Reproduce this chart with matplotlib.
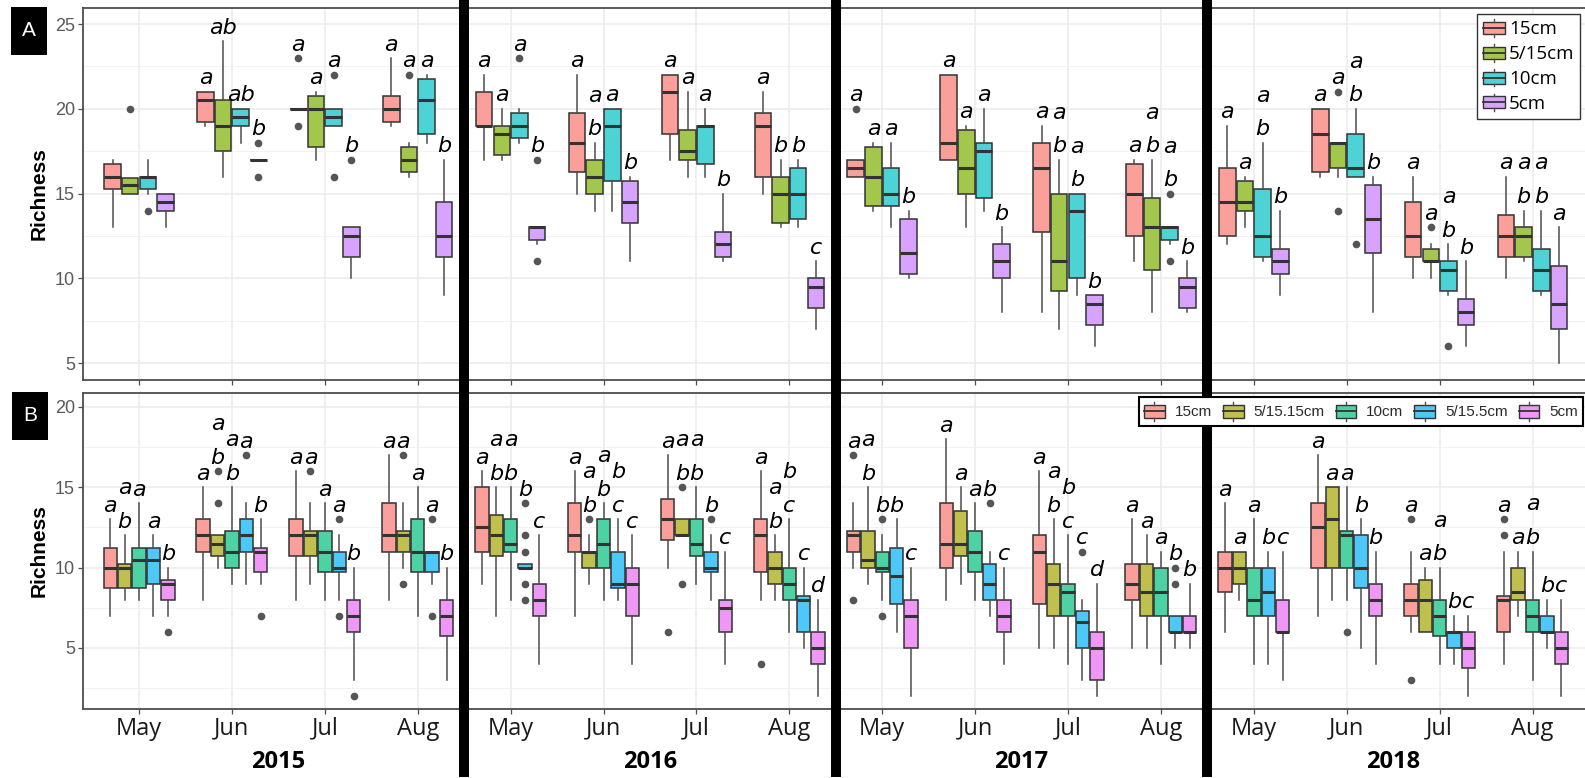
import matplotlib
matplotlib.use('Agg')
import matplotlib.pyplot as plt
from matplotlib.patches import Rectangle, Patch
from matplotlib.lines import Line2D
from matplotlib.legend_handler import HandlerBase
from matplotlib.ticker import MultipleLocator
from matplotlib.colors import to_rgb

W, H = 1585, 778

years = ['2015', '2016', '2017', '2018']
months = ['May', 'Jun', 'Jul', 'Aug']

# ---- panel A : 4 depths, rows = months 2015 May ... 2018 Aug
a_groups = ['15cm', '5/15cm', '10cm', '5cm']
a_colors = ['#F8766D', '#7CAE00', '#00BFC4', '#C77CFF']

a_lo = [[13, 15, 15, 13], [19, 16, 18, 17], [20, 17, 19, 10], [19, 16, 18, 9],
        [17, 17, 18, 12], [15, 14, 14, 11], [17, 16, 16, 11], [15, 13, 13, 7],
        [16, 14, 13, 10], [17, 13, 14, 8], [8, 7, 9, 6], [11, 8, 12, 8],
        [12, 13, 11, 9], [16, 16, 16, 8], [10, 10, 9, 6], [10, 11, 9, 5]]
a_q1 = [[15.25, 15, 15.25, 14], [19.25, 17.5, 19, 17], [20, 17.75, 19, 11.25], [19.25, 16.25, 18.5, 11.25],
        [19, 17.25, 18.25, 12.25], [16.25, 15, 15.75, 13.25], [18.5, 17, 16.75, 11.25], [16, 13.25, 13.5, 8.25],
        [16, 14.25, 14.25, 10.25], [17, 15, 14.75, 10], [12.75, 9.25, 10, 7.25], [12.5, 10.5, 12.25, 8.25],
        [12.5, 14, 11.25, 10.25], [16.25, 16.5, 16, 11.5], [11.25, 11, 9.25, 7.25], [11.25, 11.25, 9.25, 7]]
a_med = [[16, 15.5, 16, 14.5], [20.5, 19, 19.5, 17], [20, 20, 19.5, 12.5], [20, 17, 20.5, 12.5],
         [19, 18.5, 19, 13], [18, 16, 19, 14.5], [21, 17.5, 19, 12], [19, 15, 15, 9.5],
         [16.5, 16, 15, 11.5], [18, 16.5, 17.5, 11], [16.5, 11, 14, 8.5], [15, 13, 13, 9.5],
         [14.5, 14.5, 12.5, 11], [18.5, 18, 16.5, 13.5], [12.5, 11, 10.5, 8], [12.5, 12.5, 10.5, 8.5]]
a_q3 = [[16.75, 15.9, 16, 15], [21, 20.5, 20, 17], [20, 20.75, 20, 13], [20.75, 17.75, 21.75, 14.5],
        [21, 19, 19.75, 13], [19.75, 17, 20, 15.75], [22, 18.75, 19, 12.75], [19.75, 16, 16.5, 10],
        [17, 17.75, 16.5, 13.5], [22, 18.75, 18, 12], [18, 15, 15, 9], [16.75, 14.75, 13, 10],
        [16.5, 15.75, 15.25, 11.75], [20, 18, 18.5, 15.5], [14.5, 11.75, 11, 8.75], [13.75, 13, 11.75, 10.75]]
a_hi = [[17, 15.9, 17, 15], [21, 24, 20, 17], [20, 21, 20, 13], [23, 18, 22, 17],
        [22, 20, 20, 13], [22, 18, 20, 16], [22, 21, 20, 15], [21, 17, 17, 11],
        [17, 18, 18, 14], [22, 19, 20, 13], [19, 17, 15, 9], [17, 17, 13, 11],
        [19, 16, 18, 14], [20, 18, 20, 16], [16, 12, 12, 11], [16, 14, 14, 13]]
a_out = [[[], [20], [14], []], [[], [], [], [18, 16]], [[23, 19], [], [22, 16], [17]], [[], [22], [], []],
         [[], [], [23], [17, 11]], [[], [], [], []], [[], [], [], []], [[], [], [], []],
         [[20], [], [], []], [[], [], [], []], [[], [], [], []], [[], [], [15, 11], []],
         [[], [], [], []], [[], [21, 14], [12], []], [[], [13], [6], []], [[], [], [], []]]
a_let = [['', '', '', ''], ['a', 'ab', 'ab', 'b'], ['a', 'a', 'a', 'b'], ['a', 'a', 'a', 'b'],
         ['a', 'a', 'a', 'b'], ['a', 'a\nb', 'a', 'b'], ['a', 'a', 'a', 'b'], ['a', 'b', 'b', 'c'],
         ['a', 'a', 'a', 'b'], ['a', 'a', 'a', 'b'], ['a', 'a\nb', 'a\nb', 'b'], ['a', 'a\nb', 'a\nb', 'b'],
         ['a', 'a', 'a\nb', 'b'], ['a', 'a', 'a\nb', 'b'], ['a', 'a', 'a\nb', 'b'], ['a', 'a\nb', 'a\nb', 'a']]

# ---- panel B : 5 depths
b_groups = ['15cm', '5/15.15cm', '10cm', '5/15.5cm', '5cm']
b_colors = ['#F8766D', '#A3A500', '#00BF7D', '#00B0F6', '#E76BF3']

b_lo = [[7, 8, 8, 7, 7], [8, 10, 9, 9, 9], [8, 9, 8, 8, 3], [8, 10, 7, 9, 3],
        [9, 7, 8, 10, 4], [7, 9, 8, 8, 4], [10, 12, 9, 8, 4], [8, 8, 6, 5, 2],
        [10, 9, 8, 6, 2], [8, 9, 8, 7, 4], [5, 5, 4, 3, 2], [5, 5, 4, 5, 5],
        [6, 8, 4, 4, 3], [7, 8, 8, 5, 4], [6, 6, 4, 4, 2], [4, 7, 3, 5, 2]]
b_q1 = [[8.75, 8.75, 8.75, 9, 8], [11, 10.75, 10, 11, 9.75], [10.75, 10.75, 9.75, 9.75, 6], [11, 11, 9.75, 9.75, 5.75],
        [11, 10.75, 11, 10, 7], [11, 10, 10, 8.75, 7], [11.75, 12, 10.75, 9.75, 6], [9.75, 9, 8, 6, 4],
        [11, 10, 9.75, 7.75, 5], [10, 10.75, 9.75, 8, 6], [7.75, 7, 7, 5, 3], [8, 7, 7, 6, 6],
        [8.5, 9, 7, 7, 6], [10, 10, 10, 8.75, 7], [7, 6, 5.75, 5, 3.75], [6, 8, 6, 6, 4]]
b_med = [[10, 10, 10.5, 10.5, 9], [12, 11.5, 11, 12, 11], [12, 12, 11, 10, 7], [12, 12, 11, 11, 7],
         [12.5, 12, 11.5, 10, 8], [12, 11, 11.5, 9, 9], [13, 12, 11.5, 10, 7.5], [12, 10, 9, 8, 5],
         [12, 10.5, 10, 9.5, 7], [11.5, 11.5, 11, 9, 7], [11, 9, 8.5, 6.6, 5], [9, 8.5, 8.5, 6, 6],
         [10, 10, 8, 8.5, 6], [12.5, 13, 12, 10, 8], [8, 8, 7, 6, 5], [8, 8.5, 7, 6, 5]]
b_q3 = [[11.25, 10.25, 11.25, 11.25, 9.25], [13, 12, 12.25, 13, 11.25], [13, 12.25, 12.25, 11, 8], [14, 12.25, 13, 11, 8],
        [15, 13.25, 13, 10.25, 9], [14, 11, 13, 11, 10], [14.25, 13, 13, 11, 8], [13, 11, 10, 8.25, 6],
        [12.25, 12.25, 11, 11.25, 8], [14, 13.5, 12.25, 10.25, 8], [12, 10.25, 9, 7.3, 6], [10.25, 10.25, 10, 7, 7],
        [11, 11, 10, 10, 8], [14, 15, 12.25, 12, 9], [9, 9.25, 8, 6, 6], [8.25, 10, 8, 7, 6]]
b_hi = [[13, 12, 14, 12, 10], [15, 12, 15, 14, 13], [16, 14, 14, 12, 10], [17, 14, 15, 11, 10],
        [16, 15, 15, 10.25, 12], [16, 12, 14, 13, 12], [17, 13, 15, 12, 11], [16, 12, 13, 10, 8],
        [14, 15, 12, 13, 10], [18, 15, 14, 11, 10], [16, 13, 12, 8, 9], [13, 12, 11, 7, 9],
        [14, 11, 13, 11, 11], [17, 15, 15, 13, 11], [11, 10, 10, 7, 7], [11, 11, 11, 8, 8]]
b_out = [[[], [], [], [], [6]], [[], [16, 14], [], [17], [7]], [[], [16], [], [13, 7], [2]], [[], [17, 9], [], [13, 7], []],
         [[], [], [], [14, 12, 11, 9, 8], []], [[], [13], [], [], []], [[6], [15, 9], [], [13], []], [[4], [], [], [], []],
         [[17, 8], [], [13, 7], [], []], [[], [], [], [14], []], [[], [], [], [11], []], [[], [], [], [10, 9], []],
         [[], [], [], [], []], [[], [], [6], [], []], [[13, 3], [], [], [], []], [[13, 12], [], [], [], []]]
b_let = [['a', 'a\nb', 'a', 'a', 'b'], ['a', 'a\nb', 'a\nb', 'a', 'b'], ['a', 'a', 'a', 'a', 'b'], ['a', 'a', 'a', 'a', 'b'],
         ['a', 'a\nb', 'a\nb', 'b', 'c'], ['a', 'a\nb', 'a\nb', 'b\nc', 'c'], ['a', 'a\nb', 'a\nb', 'b', 'c'], ['a', 'a\nb', 'b\nc', 'c', 'd'],
         ['a', 'a\nb', 'b', 'b', 'c'], ['a', 'a', 'a', 'b', 'c'], ['a', 'a\nb', 'b\nc', 'c', 'd'], ['a', 'a', 'a', 'b', 'b'],
         ['a', 'a', 'a', 'b', 'c'], ['a', 'a', 'a', 'b', 'b'], ['a', 'a', 'a\nb', 'b', 'c'], ['a', 'a', 'a\nb', 'b', 'c']]


def fill(c, alpha=0.7):
    r, g, b = to_rgb(c)
    return (alpha * r + 1 - alpha, alpha * g + 1 - alpha, alpha * b + 1 - alpha)


class BoxKey(HandlerBase):
    # ggplot-like boxplot legend key
    def create_artists(self, legend, orig_handle, xdescent, ydescent, width, height, fontsize, trans):
        x0, y0 = -xdescent, -ydescent
        bh = height * 0.72
        yb = y0 + (height - bh) / 2
        fc = orig_handle.get_facecolor()
        rect = Rectangle((x0, yb), width, bh, facecolor=fc, edgecolor='#333333', lw=1.0, transform=trans)
        mid = Line2D([x0, x0 + width], [y0 + height / 2] * 2, color='#333333', lw=1.3, transform=trans)
        up = Line2D([x0 + width / 2] * 2, [yb + bh, y0 + height * 1.02], color='#4d4d4d', lw=1.0, transform=trans)
        dn = Line2D([x0 + width / 2] * 2, [yb, y0 - height * 0.02], color='#4d4d4d', lw=1.0, transform=trans)
        return [rect, mid, up, dn]


def draw_panel(ax, lo, q1, med, q3, hi, out, let, colors, step, width):
    n = len(colors)
    stats, pos = [], []
    for m in range(16):
        for g in range(n):
            stats.append(dict(whislo=lo[m][g], q1=q1[m][g], med=med[m][g], q3=q3[m][g],
                              whishi=hi[m][g], fliers=out[m][g]))
            pos.append(m + 1 + (g - (n - 1) / 2) * step)
    art = ax.bxp(stats, positions=pos, widths=width, patch_artist=True, showcaps=False,
                 manage_ticks=False,
                 boxprops=dict(edgecolor='#333333', linewidth=1.1),
                 medianprops=dict(color='#333333', linewidth=2.2),
                 whiskerprops=dict(color='#4d4d4d', linewidth=1.1),
                 flierprops=dict(marker='o', markerfacecolor='#555555', markeredgecolor='none', markersize=5.5))
    for i, b in enumerate(art['boxes']):
        b.set_facecolor(fill(colors[i % n]))
    for i, s in enumerate(stats):
        txt = let[i // n][i % n]
        if not txt:
            continue
        top = max([s['whishi'], s['q3']] + list(s['fliers']))
        ax.annotate(txt, (pos[i], top), xytext=(0, 2.5), textcoords='offset points',
                    ha='center', va='bottom', fontsize=16, style='italic',
                    family='DejaVu Sans', linespacing=1.85, color='black')


def style_axes(ax, yticks, ylim):
    ax.set_xlim(0.4, 16.6)
    ax.set_ylim(*ylim)
    ax.set_xticks(range(1, 17))
    ax.set_yticks(yticks)
    ax.yaxis.set_minor_locator(MultipleLocator(2.5))
    ax.grid(which='major', color='#EBEBEB', lw=1.1)
    ax.grid(which='minor', axis='y', color='#F2F2F2', lw=0.7)
    ax.set_axisbelow(True)
    for sp in ax.spines.values():
        sp.set_color('#4d4d4d')
        sp.set_linewidth(1.3)
    ax.tick_params(which='major', length=3.5, width=0.9, color='#4d4d4d')
    ax.tick_params(which='minor', length=0)
    ax.tick_params(axis='y', labelsize=13, labelcolor='#5a5a5a', pad=2.5)
    for t in ax.get_yticklabels():
        t.set_family('Liberation Sans')


fig = plt.figure(figsize=(W / 100, H / 100), dpi=100)
left = 83.3 / W
width = 16.2 * 92.9 / W
axA = fig.add_axes([left, 1 - 380 / H, width, 372 / H])
axB = fig.add_axes([left, 1 - 709 / H, width, 316 / H])

draw_panel(axA, a_lo, a_q1, a_med, a_q3, a_hi, a_out, a_let, a_colors, 0.19, 0.178)
draw_panel(axB, b_lo, b_q1, b_med, b_q3, b_hi, b_out, b_let, b_colors, 0.155, 0.145)

style_axes(axA, [5, 10, 15, 20, 25], (4.0, 25.95))
style_axes(axB, [5, 10, 15, 20], (1.2, 20.87))
axA.set_xticklabels([])
axB.set_xticklabels(months * 4, fontsize=17, family='Open Sans', color='#1a1a1a')
axB.tick_params(axis='x', pad=2)

for ax, yc in ((axA, 194), (axB, 551)):
    fig.text(39 / W, 1 - yc / H, 'Richness', rotation=90, ha='center', va='center',
             fontsize=15, fontweight='bold', family='Liberation Sans')

# legends
la = axA.legend([Patch(facecolor=fill(c)) for c in a_colors], a_groups,
                handler_map={Patch: BoxKey()}, loc='upper right',
                bbox_to_anchor=(1580 / W, 1 - 14 / H), bbox_transform=fig.transFigure,
                fancybox=False, edgecolor='#333333', framealpha=1, borderaxespad=0,
                prop={'family': 'Open Sans', 'size': 13.5}, handlelength=1.2, handleheight=1.0,
                handletextpad=0.2, labelspacing=0.32, borderpad=0.3)
la.get_frame().set_linewidth(1.0)
la.set_zorder(10)

# panel B legend sits on top of the year separator
lb = fig.legend([Patch(facecolor=fill(c)) for c in b_colors], b_groups,
                handler_map={Patch: BoxKey()}, loc='upper right', ncol=5,
                bbox_to_anchor=(1583 / W, 1 - 397 / H), bbox_transform=fig.transFigure,
                fancybox=False, edgecolor='black', framealpha=1, borderaxespad=0,
                prop={'family': 'Liberation Sans', 'size': 11},
                labelcolor='#2b2b2b', handlelength=1.35, handleheight=1.5,
                handletextpad=0.65, columnspacing=0.72, borderpad=0.33)
lb.get_frame().set_linewidth(1.5)
lb.set_zorder(30)

# year labels and black separators
for k, yr in enumerate(years):
    xp = axB.transData.transform((2.5 + 4 * k, 0))[0]
    fig.text(xp / W, 1 - 762 / H, yr, ha='center', va='center', fontsize=17,
             fontweight='bold', family='Open Sans')
for k in range(1, 4):
    xp = axA.transData.transform((0.5 + 4 * k, 0))[0]
    fig.add_artist(Rectangle(((xp - 5) / W, 1 - 777 / H), 10 / W, 777 / H,
                             transform=fig.transFigure, facecolor='black', edgecolor='none', zorder=20))

# panel tags
for tag, (x0, y0) in (('A', (11, 7)), ('B', (12, 392))):
    fig.add_artist(Rectangle((x0 / W, 1 - (y0 + 48) / H), 36 / W, 48 / H,
                             transform=fig.transFigure, facecolor='black', edgecolor='none'))
    fig.text((x0 + 18) / W, 1 - (y0 + 24) / H, tag, color='white', ha='center', va='center',
             fontsize=15, family='Liberation Sans')

fig.savefig('out.png', dpi=100)
